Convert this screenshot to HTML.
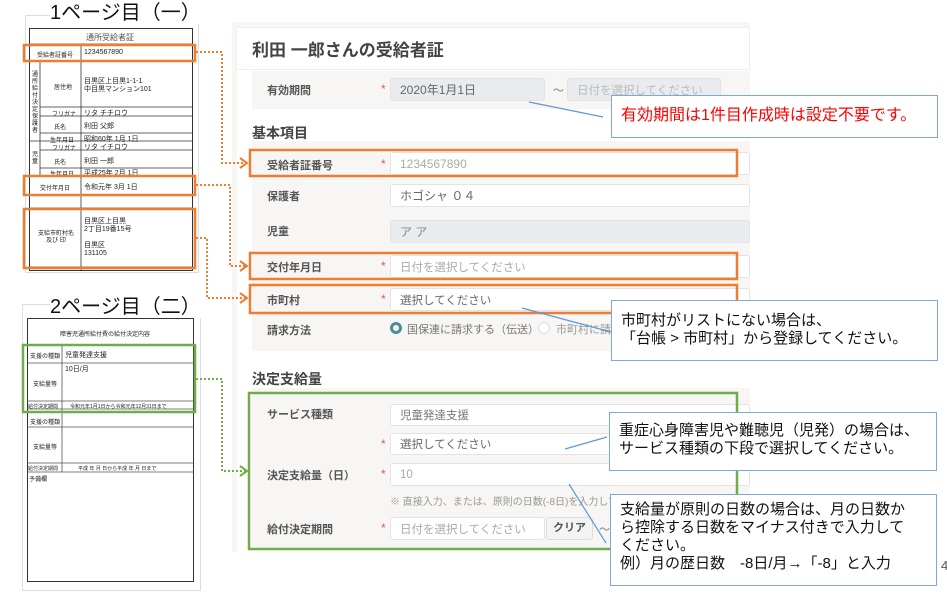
<!DOCTYPE html>
<html><head><meta charset="utf-8"><style>
*{margin:0;padding:0;box-sizing:border-box}
body{width:947px;height:596px;background:#fff;position:relative;overflow:hidden;font-family:"Liberation Sans","Noto Sans CJK JP",sans-serif;color:#333}
.a{position:absolute;white-space:nowrap}
.lb{font-size:11px;font-weight:bold;color:#555}
.st{color:#e55;font-size:12px}
.in{position:absolute;border:1px solid #e3e3e3;border-radius:3px;background:#fff;font-size:11.5px;color:#999;padding-left:9px;display:flex;align-items:center}
.g{background:#e9ebee}
.co{position:absolute;background:#fff;border:1.5px solid #7fa8d6;font-size:15px;color:#111;line-height:18px;padding-left:9px}
.t{font-size:6px;color:#222;position:absolute;white-space:nowrap}
</style></head><body>
<div class="a" style="left:232px;top:22px;width:518px;height:530px;background:#f8f6f3"></div>
<div class="a" style="left:236px;top:27px;width:514px;height:43px;background:#fff;border:1px solid #eee"></div>
<div class="a" style="left:252px;top:36px;font-size:17px;font-weight:bold;color:#444">利田 一郎さんの受給者証</div>
<div class="a" style="left:237px;top:70px;width:513px;height:482px;background:#fff"></div>
<div class="a" style="left:252px;top:71px;width:498px;height:38px;background:#f7f6f4"></div>
<div class="a lb" style="left:267px;top:82px">有効期間</div><div class="a st" style="left:381px;top:82px">*</div>
<div class="in g" style="left:390px;top:78px;width:155px;height:23px;color:#666;font-size:12px">2020年1月1日</div>
<div class="a" style="left:553px;top:82px;font-size:11px;color:#777">～</div>
<div class="in g" style="left:567px;top:78px;width:154px;height:23px;color:#bbb">日付を選択してください</div>
<div class="a" style="left:252px;top:123px;font-size:14px;font-weight:bold;color:#444">基本項目</div>
<div class="a" style="left:252px;top:141px;width:498px;height:210px;background:#f7f6f4"></div>
<div class="a lb" style="left:267px;top:157px">受給者証番号</div><div class="a st" style="left:381px;top:157px">*</div>
<div class="in" style="left:390px;top:152px;width:360px;height:23px;color:#aaa;font-size:12px">1234567890</div>
<div class="a lb" style="left:267px;top:188px">保護者</div>
<div class="in" style="left:390px;top:184px;width:360px;height:23px;color:#666;font-size:12px">ホゴシャ ０４</div>
<div class="a lb" style="left:267px;top:223px">児童</div>
<div class="in g" style="left:390px;top:220px;width:360px;height:23px;color:#888;font-size:12px">ア ア</div>
<div class="a lb" style="left:267px;top:259px">交付年月日</div><div class="a st" style="left:381px;top:259px">*</div>
<div class="in" style="left:390px;top:255px;width:360px;height:23px;color:#aaa">日付を選択してください</div>
<div class="a lb" style="left:267px;top:292px">市町村</div><div class="a st" style="left:381px;top:292px">*</div>
<div class="in" style="left:390px;top:288px;width:360px;height:23px;color:#666">選択してください</div>
<div class="a lb" style="left:267px;top:322px">請求方法</div>
<div class="a" style="left:390px;top:322px;width:12px;height:12px;border-radius:50%;border:3px solid #4a8f94"></div>
<div class="a" style="left:407px;top:321px;font-size:11px;color:#777">国保連に請求する（伝送）</div>
<div class="a" style="left:538px;top:322px;width:12px;height:12px;border-radius:50%;border:1px solid #ddd;background:#fff"></div>
<div class="a" style="left:556px;top:321px;font-size:11px;color:#999">市町村に請求</div>
<div class="a" style="left:252px;top:369px;font-size:14px;font-weight:bold;color:#444">決定支給量</div>
<div class="a" style="left:252px;top:388px;width:498px;height:160px;background:#f7f6f4"></div>
<div class="a lb" style="left:267px;top:406px">サービス種類</div>
<div class="in" style="left:390px;top:404px;width:360px;height:22px;color:#777">児童発達支援</div>
<div class="a st" style="left:381px;top:437px">*</div>
<div class="in" style="left:390px;top:433px;width:360px;height:22px;color:#666">選択してください</div>
<div class="a lb" style="left:267px;top:467px">決定支給量（日）</div><div class="a st" style="left:381px;top:467px">*</div>
<div class="in" style="left:390px;top:463px;width:360px;height:23px;color:#aaa">10</div>
<div class="a" style="left:390px;top:493px;font-size:10px;color:#999">※ 直接入力、または、原則の日数(-8日)を入力してください</div>
<div class="a lb" style="left:267px;top:521px">給付決定期間</div><div class="a st" style="left:381px;top:521px">*</div>
<div class="in" style="left:390px;top:517px;width:155px;height:23px;color:#aaa">日付を選択してください</div>
<div class="a" style="left:546px;top:517px;width:47px;height:23px;border:1px solid #ddd;border-radius:3px;background:#f4f4f4;font-size:11px;font-weight:bold;color:#555;text-align:center;line-height:21px">クリア</div>
<div class="a" style="left:599px;top:521px;font-size:11px;color:#777">～</div>

<div class="a" style="left:25px;top:15px;width:174px;height:258px;border:1px solid #ddd"></div>
<div class="a" style="left:29px;top:28px;width:164px;height:243px;border:1px solid #333"></div>
<div class="a" style="left:50px;top:2px;font-size:20px;color:#111;background:#fff;line-height:22px">1ページ目（一）</div>
<div class="t" style="left:86px;top:32px;font-size:8px;color:#555">通所受給者証</div>
<svg class="a" style="left:0;top:0" width="947" height="596">
<g stroke="#333" stroke-width="0.8" fill="none">
<line x1="29" y1="44" x2="193" y2="44"/><line x1="29" y1="61" x2="193" y2="61"/>
<line x1="81" y1="44" x2="81" y2="271"/><line x1="40" y1="61" x2="40" y2="176"/>
<line x1="40" y1="107" x2="193" y2="107"/><line x1="40" y1="116" x2="193" y2="116"/><line x1="40" y1="133" x2="193" y2="133"/>
<line x1="29" y1="141" x2="193" y2="141"/><line x1="40" y1="150" x2="193" y2="150"/><line x1="40" y1="168" x2="193" y2="168"/>
<line x1="29" y1="176" x2="193" y2="176"/><line x1="29" y1="195" x2="193" y2="195"/><line x1="29" y1="208" x2="193" y2="208"/><line x1="29" y1="267" x2="193" y2="267"/>
</g>
</svg>
<div class="t" style="left:37px;top:50px">受給者証番号</div><div class="t" style="left:84px;top:49px;font-size:7px">1234567890</div>
<div class="t" style="left:32px;top:72px;width:6px;white-space:normal;line-height:7px">通所給付決定保護者</div>
<div class="t" style="left:54px;top:82px">居住地</div><div class="t" style="left:84px;top:78px;font-size:7px;line-height:8px">目黒区上目黒1-1-1<br>中目黒マンション101</div>
<div class="t" style="left:52px;top:109px">フリガナ</div><div class="t" style="left:84px;top:108px;font-size:7px">リタ チチロウ</div>
<div class="t" style="left:54px;top:122px">氏名</div><div class="t" style="left:84px;top:121px;font-size:7px">利田 父郎</div>
<div class="t" style="left:50px;top:135px">生年月日</div><div class="t" style="left:84px;top:134px;font-size:7px">昭和60年 1月 1日</div>
<div class="t" style="left:32px;top:152px;width:6px;white-space:normal;line-height:7px">児童</div>
<div class="t" style="left:52px;top:143px">フリガナ</div><div class="t" style="left:84px;top:142px;font-size:7px">リタ イチロウ</div>
<div class="t" style="left:54px;top:157px">氏名</div><div class="t" style="left:84px;top:156px;font-size:7px">利田 一郎</div>
<div class="t" style="left:50px;top:169px">生年月日</div><div class="t" style="left:84px;top:168px;font-size:7px">平成25年 2月 1日</div>
<div class="t" style="left:40px;top:183px">交付年月日</div><div class="t" style="left:84px;top:182px;font-size:7px">令和元年 3月 1日</div>
<div class="t" style="left:38px;top:231px;line-height:7px;text-align:center">支給市町村名<br>及び 印</div>
<div class="t" style="left:84px;top:218px;font-size:7px;line-height:8px">目黒区上目黒<br>2丁目19番15号<br><br>目黒区<br>131105</div>

<div class="a" style="left:22px;top:304px;width:179px;height:287px;border:1px solid #ddd"></div>
<div class="a" style="left:27px;top:318px;width:167px;height:264px;border:1px solid #333"></div>
<div class="a" style="left:50px;top:296px;font-size:20px;color:#111;background:#fff;line-height:22px">2ページ目（二）</div>
<div class="t" style="left:60px;top:329px">障害児通所給付費の給付決定内容</div>
<svg class="a" style="left:0;top:0" width="947" height="596">
<g stroke="#555" stroke-width="0.8" fill="none">
<line x1="27" y1="345" x2="194" y2="345"/><line x1="27" y1="363" x2="194" y2="363"/><line x1="27" y1="401" x2="194" y2="401"/><line x1="27" y1="409" x2="194" y2="409"/>
<line x1="27" y1="412" x2="194" y2="412"/><line x1="27" y1="427" x2="194" y2="427"/><line x1="27" y1="463" x2="194" y2="463"/><line x1="27" y1="472" x2="194" y2="472"/>
<line x1="62" y1="345" x2="62" y2="472"/>
</g></svg>
<div class="t" style="left:30px;top:351px">支援の種類</div><div class="t" style="left:65px;top:350px;font-size:7px">児童発達支援</div>
<div class="t" style="left:65px;top:364px;font-size:7px">10日/月</div><div class="t" style="left:33px;top:379px">支給量等</div>
<div class="t" style="left:28px;top:403px;font-size:5px">給付決定期間</div><div class="t" style="left:70px;top:403px;font-size:5px">令和元年1月1日から令和元年12月31日まで</div>
<div class="t" style="left:30px;top:417px">支援の種類</div><div class="t" style="left:33px;top:442px">支給量等</div>
<div class="t" style="left:28px;top:465px;font-size:5px">給付決定期間</div><div class="t" style="left:78px;top:465px;font-size:5px">平成 年 月 日から平成 年 月 日まで</div>
<div class="t" style="left:29px;top:474px">予備欄</div>

<svg class="a" style="left:0;top:0" width="947" height="596">
<g fill="none" stroke="#ed7d31" stroke-width="2.5">
<rect x="24" y="45" width="171" height="16"/><rect x="24" y="176" width="171" height="19"/><rect x="24" y="209" width="171" height="59"/>
<rect x="250" y="150" width="487" height="26"/><rect x="250" y="253" width="487" height="26"/><rect x="250" y="285" width="487" height="28"/>
</g>
<g fill="none" stroke="#ed7d31" stroke-width="2" stroke-dasharray="2,2">
<polyline points="196,52 222,52 222,163 246,163"/><polyline points="196,185 230,185 230,266 246,266"/><polyline points="196,238 207,238 207,298 246,298"/>
</g>
<g fill="none" stroke="#ed7d31" stroke-width="2"><polyline points="240,158 247,163 240,168"/><polyline points="240,261 247,266 240,271"/><polyline points="240,293 247,298 240,303"/></g>
<g fill="none" stroke="#70ad47" stroke-width="2.5"><rect x="23" y="345" width="172" height="67"/><rect x="249" y="393" width="488" height="156"/></g>
<polyline points="196,379 222,379 222,471 246,471" fill="none" stroke="#70ad47" stroke-width="2" stroke-dasharray="2,2"/>
<polyline points="240,466 247,471 240,476" fill="none" stroke="#70ad47" stroke-width="2"/>
<g stroke="#5b9bd5" stroke-width="1.2">
<line x1="529" y1="102" x2="603" y2="117"/><line x1="522" y1="308" x2="611" y2="332"/><line x1="565" y1="449" x2="607" y2="437"/><line x1="569" y1="484" x2="606" y2="543"/>
</g></svg>
<div class="co" style="left:611px;top:95px;width:327px;height:43px;color:#f00;font-size:16px;padding-top:11px">有効期間は1件目作成時は設定不要です。</div>
<div class="co" style="left:611px;top:300px;width:327px;height:61px;padding-top:11px">市町村がリストにない場合は、<br>「台帳 &gt; 市町村」から登録してください。</div>
<div class="co" style="left:609px;top:412px;width:328px;height:59px;padding-top:9px">重症心身障害児や難聴児（児発）の場合は、<br>サービス種類の下段で選択してください。</div>
<div class="co" style="left:610px;top:494px;width:327px;height:92px;padding-top:6px">支給量が原則の日数の場合は、月の日数か<br>ら控除する日数をマイナス付きで入力して<br>ください。<br>例）月の歴日数　-8日/月→「-8」と入力</div>
<div class="a" style="left:941px;top:558px;font-size:13px;color:#555">4</div>
</body></html>
